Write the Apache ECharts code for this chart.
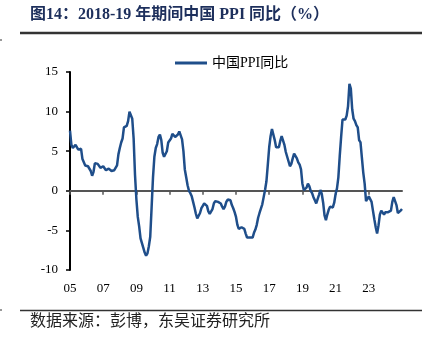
<!DOCTYPE html>
<html>
<head>
<meta charset="utf-8">
<script src="https://cdn.jsdelivr.net/npm/echarts@6/dist/echarts.min.js"></script>
<style>
  html, body { margin: 0; padding: 0; background: #fff; }
  #chart { width: 434px; height: 344px; }
</style>
</head>
<body>
<div id="chart"></div>
<script>
// China PPI, year-on-year %, monthly from Dec 2004 to Dec 2024
const firstMonth = '2004-12';
const ppiYoY = [
  7.6,
  5.8, 5.4, 5.6, 5.8, 5.9, 5.2, 5.2, 5.3, 4.0, 4.0, 3.2, 3.2,          // 2005
  3.1, 3.0, 2.5, 1.9, 2.4, 3.5, 3.6, 3.4, 3.5, 2.9, 2.8, 3.1,          // 2006
  3.3, 2.6, 2.7, 2.8, 2.8, 2.5, 2.4, 2.6, 2.7, 3.2, 4.6, 5.4,          // 2007
  6.1, 6.6, 8.0, 8.1, 8.2, 8.8, 10.0, 10.1, 9.1, 6.6, 2.0, -1.1,       // 2008
  -3.3, -4.5, -6.0, -6.6, -7.2, -7.8, -8.2, -7.9, -7.0, -5.8, -2.1, 1.7, // 2009
  4.3, 5.4, 5.9, 6.8, 7.1, 6.4, 4.8, 4.3, 4.3, 5.0, 6.1, 5.9,          // 2010
  6.6, 7.2, 7.3, 6.8, 6.8, 7.1, 7.5, 7.3, 6.5, 5.0, 2.7, 1.7,          // 2011
  0.7, 0.0, -0.3, -0.7, -1.4, -2.1, -2.9, -3.5, -3.6, -2.8, -2.2, -1.9, // 2012
  -1.6, -1.6, -1.9, -2.6, -2.9, -2.7, -2.3, -1.6, -1.3, -1.5, -1.4, -1.4, // 2013
  -1.6, -2.0, -2.3, -2.0, -1.4, -1.1, -0.9, -1.2, -1.8, -2.2, -2.7, -3.3, // 2014
  -4.3, -4.8, -4.6, -4.6, -4.6, -4.8, -5.4, -5.9, -5.9, -5.9, -5.9, -5.9, // 2015
  -5.3, -4.9, -4.3, -3.4, -2.8, -2.6, -1.7, -0.8, 0.1, 1.2, 3.3, 5.5,  // 2016
  6.9, 7.8, 7.6, 6.4, 5.5, 5.5, 5.5, 6.3, 6.9, 6.9, 5.8, 4.9,          // 2017
  4.3, 3.7, 3.1, 3.4, 4.1, 4.7, 4.6, 4.1, 3.6, 3.3, 2.7, 0.9,          // 2018
  0.1, 0.1, 0.4, 0.9, 0.6, 0.0, -0.3, -0.8, -1.2, -1.6, -1.4, -0.5,    // 2019
  0.1, -0.4, -1.5, -3.1, -3.7, -3.0, -2.4, -2.0, -2.1, -2.1, -1.5, -0.4, // 2020
  0.3, 1.7, 4.4, 6.8, 9.0, 8.8, 9.0, 9.5, 10.7, 13.5, 12.9, 10.3,      // 2021
  9.1, 8.8, 8.3, 8.0, 6.4, 6.1, 4.2, 2.3, 0.9, -1.3, -1.3, -0.7,       // 2022
  -0.8, -1.4, -2.5, -3.6, -4.6, -5.4, -4.4, -3.0, -2.5, -2.6, -3.0, -2.7, // 2023
  -2.5, -2.7, -2.8, -2.5, -1.4, -0.8, -0.8, -1.8, -2.8, -2.9, -2.5, -2.3  // 2024
];
// x positions are month offsets from firstMonth
const tickMonths = [0, 24, 48, 72, 96, 120, 144, 168, 192, 216];
const tickLabels = ['05', '07', '09', '11', '13', '15', '17', '19', '21', '23'];
const seriesName = '中国PPI同比';

const serif = '"Liberation Serif", "Noto Sans CJK SC", serif';
const lineColor = '#1f4e8a';

const chart = echarts.init(document.getElementById('chart'), null, { renderer: 'canvas' });

chart.setOption({
  animation: false,
  backgroundColor: '#fff',
  grid: { left: 70, right: 32, top: 72, bottom: 74, containLabel: false },
  legend: {
    left: 170,
    top: 51,
    itemWidth: 32,
    itemHeight: 3,
    data: [{ name: seriesName, icon: 'rect' }],
    textStyle: { fontFamily: serif, fontSize: 14, color: '#000' }
  },
  xAxis: [
    {
      // zero line with tick marks
      type: 'value',
      min: 0,
      max: ppiYoY.length - 1,
      axisLine: { show: true, onZero: true, lineStyle: { color: '#555', width: 2 } },
      axisTick: { show: true, length: 4, customValues: tickMonths, lineStyle: { color: '#555', width: 1.5 } },
      axisLabel: { show: false },
      splitLine: { show: false }
    },
    {
      // year labels along the bottom
      type: 'value',
      position: 'bottom',
      min: 0,
      max: ppiYoY.length - 1,
      axisLine: { show: false, onZero: false },
      axisTick: { show: false },
      axisLabel: {
        show: true,
        customValues: tickMonths,
        margin: 12,
        fontFamily: serif,
        fontSize: 13,
        color: '#000',
        formatter: v => tickLabels[tickMonths.indexOf(v)]
      },
      splitLine: { show: false }
    }
  ],
  yAxis: {
    type: 'value',
    min: -10,
    max: 15,
    interval: 5,
    axisLine: { show: true, onZero: false, lineStyle: { color: '#000', width: 2 } },
    axisTick: { show: true, length: 4, lineStyle: { color: '#000', width: 1.5 } },
    axisLabel: { margin: 12, fontFamily: serif, fontSize: 13, color: '#000' },
    splitLine: { show: false }
  },
  series: [{
    name: seriesName,
    type: 'line',
    xAxisIndex: 0,
    symbol: 'none',
    lineStyle: { color: lineColor, width: 2.5 },
    itemStyle: { color: lineColor },
    data: ppiYoY.map((v, i) => [i, v])
  }],
  graphic: [
    {
      type: 'text',
      left: 30,
      top: 7,
      style: {
        text: '图14：2018-19 年期间中国 PPI 同比（%）',
        font: 'bold 16px ' + serif,
        fill: '#1d2f5c'
      }
    },
    {
      type: 'line',
      shape: { x1: 20, y1: 33, x2: 422, y2: 33 },
      style: { stroke: '#333', lineWidth: 2.5 }
    },
    {
      type: 'line',
      shape: { x1: 20, y1: 310.5, x2: 422, y2: 310.5 },
      style: { stroke: '#333', lineWidth: 1.5 }
    },
    {
      type: 'text',
      left: 30,
      top: 314,
      style: {
        text: '数据来源：彭博，东吴证券研究所',
        font: '16px ' + serif,
        fill: '#222'
      }
    },
    { type: 'rect', shape: { x: 0, y: 39, width: 2, height: 2 }, style: { fill: '#999' } },
    { type: 'rect', shape: { x: 0, y: 309, width: 2, height: 2 }, style: { fill: '#999' } }
  ]
});
</script>
</body>
</html>
